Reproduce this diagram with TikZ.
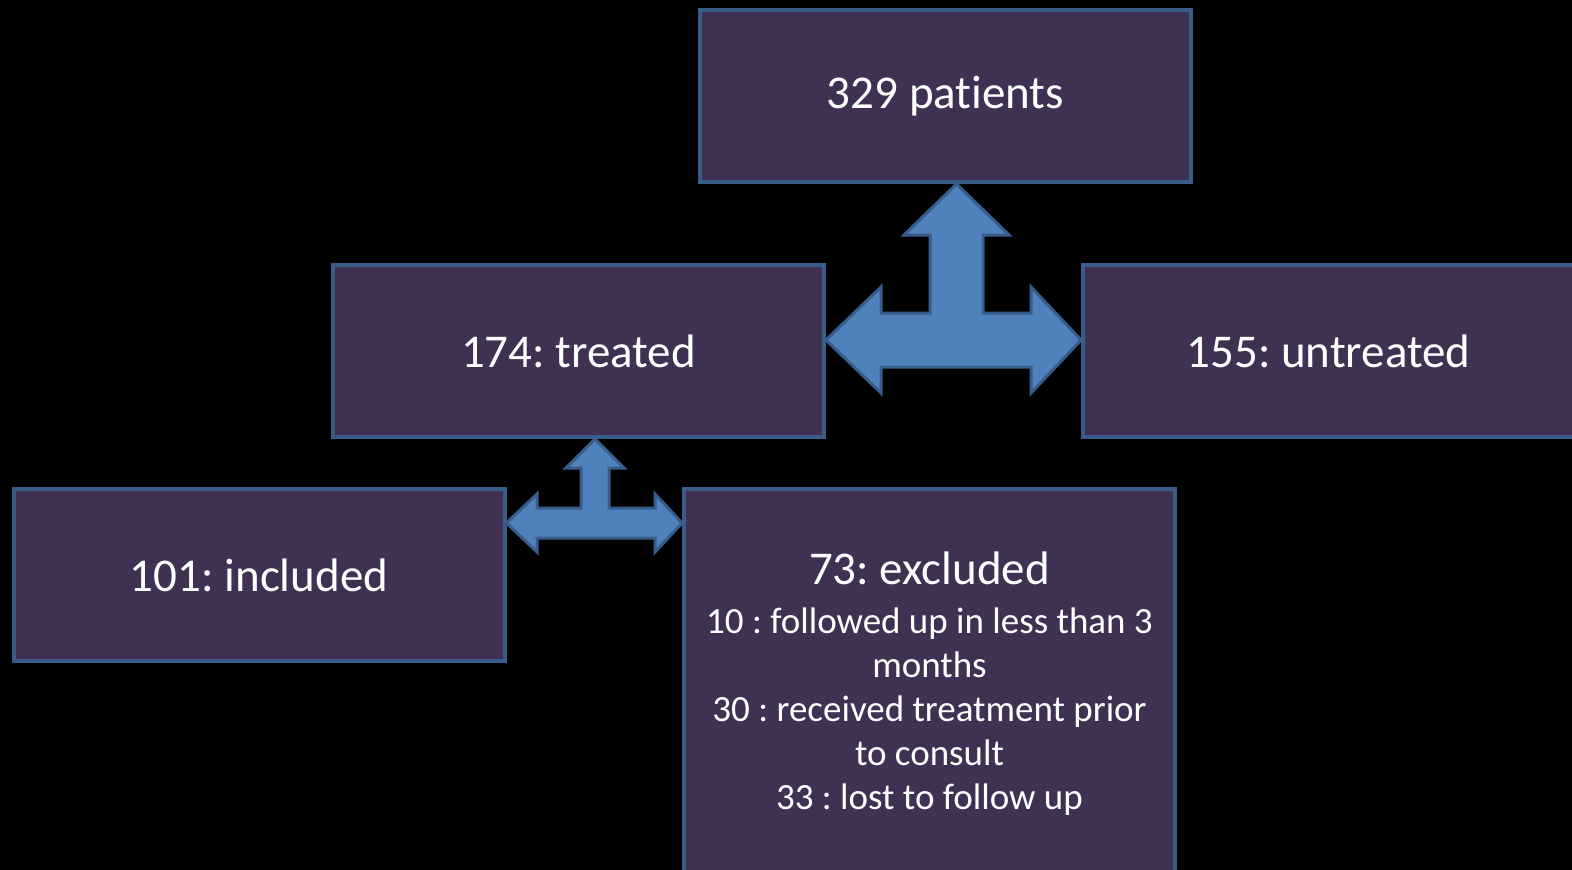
\documentclass[tikz,border=0pt]{standalone}
\usepackage{fontspec}
\setmainfont[Ligatures={NoCommon,NoContextual,NoRequired},RawFeature={-calt}]{Carlito}
\usetikzlibrary{calc}
\definecolor{boxfill}{HTML}{403152}
\definecolor{boxline}{HTML}{385D8A}
\definecolor{arrfill}{HTML}{4F81BD}
\frenchspacing
\begin{document}
\begin{tikzpicture}[x=1pt,y=-1pt,
  box/.style={draw=boxline, line width=4pt, fill=boxfill, text=white,
    minimum width=491pt, minimum height=172pt, inner sep=0pt,
    font=\fontsize{47}{56}\selectfont},
  arr/.style={draw=boxline, line width=3pt, fill=arrfill, line join=miter}]
\fill[black] (0,0) rectangle (1572,870);
\useasboundingbox (0,0) rectangle (1572,870);
\clip (0,0) rectangle (1572,870);

\node[box] (patients) at (945.5,96) {329 patients};
\node[box] (treated) at (578.5,351) {174: treated};
\node[box] (untreated) at (1328.5,351) {155: untreated};
\node[box] (included) at (259,575) {101: included};
\node[box, minimum height=447pt, align=center, font=\fontsize{37}{44}\selectfont] (excluded) at (929.5,712.5)
  {{\fontsize{47}{56}\selectfont 73: excluded}\\[5pt]
   10 : followed up in less than 3\\ months\\ 30 : received treatment prior\\ to consult\\ 33 : lost to follow up\\[20pt]};

% big three-way arrow
\coordinate (L1) at (treated.east |- 0,340);
\coordinate (R1) at (untreated.west |- 0,340);
\coordinate (T1) at (956.5,0 |- patients.south);
\draw[arr] (L1) -- (881,287) -- (881,313) -- (930,313) -- (930,235) -- (904,235)
  -- (T1) -- (1009,235) -- (983,235) -- (983,313) -- (1031,313) -- (1031,287)
  -- (R1) -- (1031,393) -- (1031,367) -- (881,367) -- (881,393) -- cycle;

% small three-way arrow
\coordinate (L2) at (included.east |- 0,523);
\coordinate (R2) at (excluded.west |- 0,523);
\coordinate (T2) at (595,0 |- treated.south);
\draw[arr] (L2) -- (537,494) -- (537,508) -- (581,508) -- (581,468) -- (566,468)
  -- (T2) -- (624,468) -- (609,468) -- (609,508) -- (655,508) -- (655,494)
  -- (R2) -- (655,552) -- (655,538) -- (537,538) -- (537,552) -- cycle;
\end{tikzpicture}
\end{document}
